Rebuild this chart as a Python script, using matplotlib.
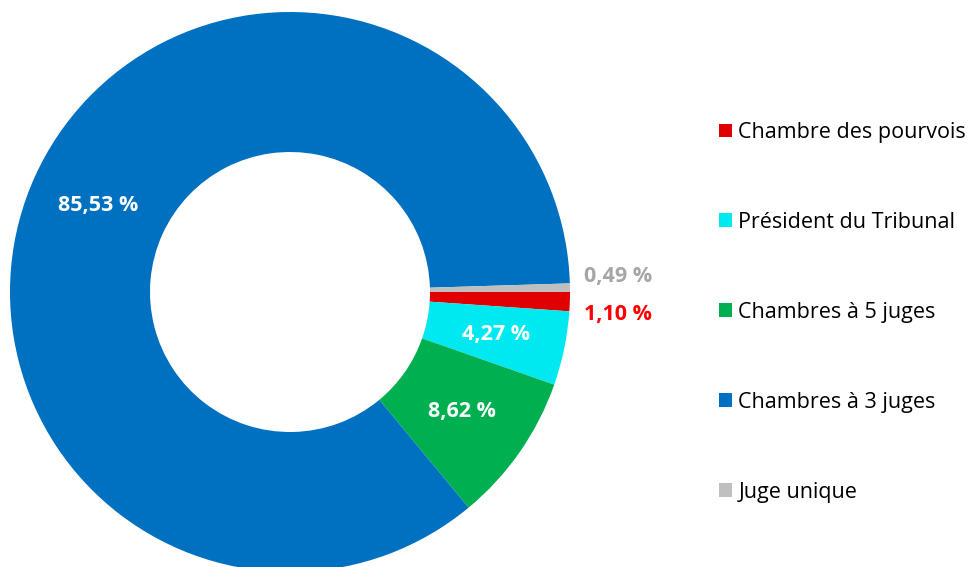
import matplotlib
matplotlib.use("Agg")
import matplotlib.pyplot as plt
from matplotlib.patches import Patch
import numpy as np

categories = ["Chambre des pourvois", "Président du Tribunal", "Chambres à 5 juges",
              "Chambres à 3 juges", "Juge unique"]
values = [1.10, 4.27, 8.62, 85.53, 0.49]
labels = ["1,10 %", "4,27 %", "8,62 %", "85,53 %", "0,49 %"]
colors = ["#E00000", "#00E8F0", "#00B050", "#0070C0", "#BFBFBF"]
label_colors = ["#FF0000", "white", "white", "white", "#A6A6A6"]
outside = [True, False, False, False, True]

plt.rcParams['font.family'] = ['Open Sans', 'DejaVu Sans']

W, H = 973, 567
fig = plt.figure(figsize=(W / 100, H / 100), dpi=100)
cx, cy, R = 290, 292, 280
ax = fig.add_axes([(cx - R) / W, (H - cy - R) / H, 2 * R / W, 2 * R / H])
wedges, _ = ax.pie(values, colors=colors, startangle=0, counterclock=False,
                   radius=1.0, wedgeprops=dict(width=0.5, linewidth=0))
ax.set_xlim(-1, 1)
ax.set_ylim(-1, 1)
ax.set_aspect('equal')
ax.axis('off')

for w, lab, col, out in zip(wedges, labels, label_colors, outside):
    mid = np.deg2rad((w.theta1 + w.theta2) / 2)
    if out:
        x = 1.17
        y = 0.056 if np.sin(mid) > 0 else -0.080
    else:
        x, y = 0.75 * np.cos(mid), 0.75 * np.sin(mid)
    ax.text(x, y, lab, ha='center', va='center', color=col,
            fontsize=15.5, fontweight='bold')

handles = [Patch(facecolor=c, edgecolor='none') for c in colors]
fig.legend(handles, categories, loc='upper left', bbox_to_anchor=(719 / W, 1 - 122 / H),
           frameon=False, fontsize=15.5, handlelength=0.6, handleheight=0.6,
           handletextpad=0.3, labelspacing=3.2, borderaxespad=0, borderpad=0)

fig.savefig("out.png", dpi=100)
